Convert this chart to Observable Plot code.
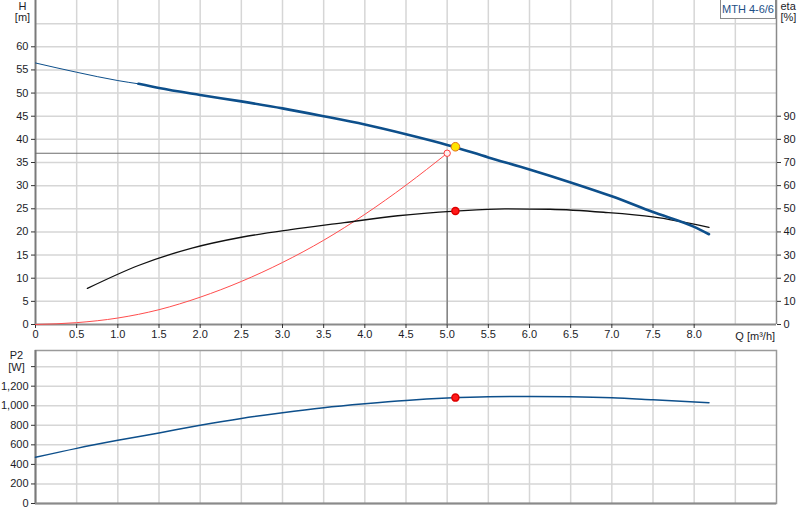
<!DOCTYPE html>
<html>
<head>
<meta charset="utf-8">
<script src="https://cdn.jsdelivr.net/npm/d3@7"></script>
<script src="https://cdn.jsdelivr.net/npm/@observablehq/plot@0.6"></script>
<style>
  html, body { margin: 0; padding: 0; background: #fff; }
  #wrap { position: relative; width: 800px; height: 520px; font-family: "Liberation Sans", Arial, sans-serif; }
  #wrap svg { display: block; overflow: visible; }
  #legend { position: absolute; left: 720px; top: 0px; width: 56px; height: 19px; border: 1px solid #8a8a8a; border-top: none; background: #fff;
            font: 11px "Liberation Sans", Arial, sans-serif; color: #1d4f86; text-align: center; line-height: 18px; box-sizing: border-box;
            white-space: nowrap; padding: 0; }
</style>
</head>
<body>
<div id="wrap"><div id="topPanel"></div><div id="bottomPanel"></div><div id="legend">MTH 4-6/6</div></div>
<script>
// ---- Data ----
const headQ = [0, 0.5, 1.0, 1.25, 1.5, 2.0, 2.5, 3.0, 3.5, 4.0, 4.5, 5.0, 5.5, 6.0, 6.5, 7.0, 7.5, 8.0, 8.18];
const headH = [56.5, 54.5, 52.7, 52.0, 51.1, 49.6, 48.2, 46.7, 45.0, 43.2, 41.1, 38.8, 36.1, 33.5, 30.7, 27.7, 24.3, 21.1, 19.5];
const headThinEnd = 1.25;
const etaQ = [0.63, 1.25, 1.9, 2.5, 3.1, 3.75, 4.4, 5.1, 5.7, 6.25, 6.9, 7.5, 8.18];
const etaPct = [15.6, 25.5, 33, 37.7, 41, 44, 47, 49, 50, 49.8, 48.5, 46.5, 42];
const sysQ = [0, 0.5, 1.0, 1.5, 2.0, 2.5, 3.0, 3.5, 4.0, 4.5, 5.0];
const sysH = [0, 0.4, 1.4, 3.2, 5.9, 9.3, 13.4, 18.2, 23.8, 30.1, 37.0];
const powQ = [0, 0.5, 1.0, 1.5, 2.0, 2.5, 3.0, 3.5, 4.0, 4.5, 5.0, 5.5, 6.0, 6.5, 7.0, 7.5, 8.18];
const powW = [472, 564, 646, 722, 800, 870, 929, 980, 1020, 1054, 1078, 1092, 1095, 1092, 1082, 1061, 1030];
const dutyQ = 5.0, dutyH = 37.0;          // required duty point (crosshair)
const opQ = 5.1, opH = 38.4, opEta = 49, opP = 1083; // operating point

const xTicks = [0, 0.5, 1.0, 1.5, 2.0, 2.5, 3.0, 3.5, 4.0, 4.5, 5.0, 5.5, 6.0, 6.5, 7.0, 7.5, 8.0];
const xGrid = [0.5, 1.0, 1.5, 2.0, 2.5, 3.0, 3.5, 4.0, 4.5, 5.0, 5.5, 6.0, 6.5, 7.0, 7.5, 8.0, 8.5];
const hTicks = [0, 5, 10, 15, 20, 25, 30, 35, 40, 45, 50, 55, 60];
const hGrid = [5, 10, 15, 20, 25, 30, 35, 40, 45, 50, 55, 60, 65];
const etaTicks = [0, 10, 20, 30, 40, 50, 60, 70, 80, 90];
const pTicks = [0, 200, 400, 600, 800, 1000, 1200, 1400];
const pLabels = [0, 200, 400, 600, 800, 1000, 1200];
const pGrid = [200, 400, 600, 800, 1000, 1200, 1400];

const BLUE = "#0d4f8b", GRID = "#d6d6d6", TXT = "#1c1c28";
const head = headQ.map((q, i) => ({q, h: headH[i]}));
const eta = etaQ.map((q, i) => ({q, e: etaPct[i]}));
const sys = sysQ.map((q, i) => ({q, h: sysH[i]}));
const pow = powQ.map((q, i) => ({q, p: powW[i]}));
const fmtX = d => d === 0 ? "0" : d.toFixed(1);

const topChart = Plot.plot({
  width: 800, height: 345,
  marginLeft: 35, marginRight: 24, marginTop: 0, marginBottom: 21,
  style: {fontFamily: "Liberation Sans, Arial, sans-serif", fontSize: "11px", color: TXT, background: "white"},
  x: {domain: [0, 9]},
  y: {domain: [0, 70]},
  marks: [
    Plot.ruleX(xGrid, {stroke: GRID, strokeWidth: 1.5}),
    Plot.ruleY(hGrid, {stroke: GRID, strokeWidth: 1.5}),
    Plot.ruleX([9], {stroke: "#8a8a8a", strokeWidth: 1.5}),
    Plot.ruleX([0], {stroke: "#7a7a7a", strokeWidth: 2}),
    Plot.ruleY([0], {stroke: "#8a8a8a", strokeWidth: 2}),
    Plot.axisX({ticks: xTicks, tickFormat: fmtX, tickSize: 4, tickPadding: 2, label: null, stroke: "#333"}),
    Plot.axisY({ticks: hTicks, tickSize: 4, tickPadding: 3, label: null, stroke: "#333"}),
    Plot.axisY({anchor: "right", ticks: etaTicks.map(d => d / 2), tickFormat: d => String(Math.round(d * 2)), tickSize: 4, tickPadding: 3, label: null, stroke: "#333"}),
    Plot.text(["Q [m³/h]"], {x: 8.5, y: 0, dy: 12, textAnchor: "start", fill: TXT}),
    Plot.text(["H"], {x: 0, y: 70, dx: -13, dy: 6, fill: TXT}),
    Plot.text(["[m]"], {x: 0, y: 70, dx: -13, dy: 17, fill: TXT}),
    Plot.text(["eta"], {x: 9, y: 70, dx: 4, dy: 6, textAnchor: "start", fill: TXT}),
    Plot.text(["[%]"], {x: 9, y: 70, dx: 4, dy: 17, textAnchor: "start", fill: TXT}),
    Plot.line([{q: 0, h: dutyH}, {q: dutyQ, h: dutyH}, {q: dutyQ, h: 0}], {x: "q", y: "h", stroke: "#6e6e6e", strokeWidth: 1.2}),
    Plot.line(sys, {x: "q", y: "h", stroke: "#ff4d4d", strokeWidth: 1, curve: "monotone-x"}),
    Plot.line(eta, {x: "q", y: d => d.e / 2, stroke: "#111", strokeWidth: 1.3, curve: "monotone-x"}),
    Plot.line(head.filter(d => d.q <= headThinEnd), {x: "q", y: "h", stroke: BLUE, strokeWidth: 1, curve: "monotone-x"}),
    Plot.line(head.filter(d => d.q >= headThinEnd), {x: "q", y: "h", stroke: BLUE, strokeWidth: 2.6, curve: "monotone-x"}),
    Plot.dot([{q: dutyQ, h: dutyH}], {x: "q", y: "h", r: 3.2, stroke: "#ff3b3b", fill: "#fff0f0", strokeWidth: 1}),
    Plot.dot([{q: opQ, h: opEta / 2}], {x: "q", y: "h", r: 3.5, fill: "#ff1a1a", stroke: "#e00000"}),
    Plot.dot([{q: opQ, h: opH}], {x: "q", y: "h", r: 4.3, fill: "#ffe400", stroke: "#e0701a", strokeWidth: 1})
  ]
});
document.getElementById("topPanel").append(topChart);

const bottomChart = Plot.plot({
  width: 800, height: 175,
  marginLeft: 35, marginRight: 24, marginTop: 5, marginBottom: 17,
  style: {fontFamily: "Liberation Sans, Arial, sans-serif", fontSize: "11px", color: TXT, background: "white"},
  x: {domain: [0, 9], axis: null},
  y: {domain: [0, 1565]},
  marks: [
    Plot.ruleX(xGrid, {stroke: GRID, strokeWidth: 1.5}),
    Plot.ruleY(pGrid, {stroke: GRID, strokeWidth: 1.5}),
    Plot.frame({stroke: "#9a9a9a", strokeWidth: 1.5}),
    Plot.ruleX([0], {stroke: "#7a7a7a", strokeWidth: 2}),
    Plot.ruleY([0], {stroke: "#8a8a8a", strokeWidth: 2}),
    Plot.axisY({ticks: pTicks, tickSize: 4, tickPadding: 3, label: null, stroke: "#333",
      tickFormat: d => pLabels.includes(d) ? d3.format(",")(d) : ""}),
    Plot.text(["P2"], {x: 0, y: 1565, dx: -19, dy: 5, fill: TXT}),
    Plot.text(["[W]"], {x: 0, y: 1565, dx: -19, dy: 17, fill: TXT}),
    Plot.line(pow, {x: "q", y: "p", stroke: BLUE, strokeWidth: 1.5, curve: "monotone-x"}),
    Plot.dot([{q: opQ, p: opP}], {x: "q", y: "p", r: 3.5, fill: "#ff1a1a", stroke: "#e00000"})
  ]
});
document.getElementById("bottomPanel").append(bottomChart);
</script>
</body>
</html>
